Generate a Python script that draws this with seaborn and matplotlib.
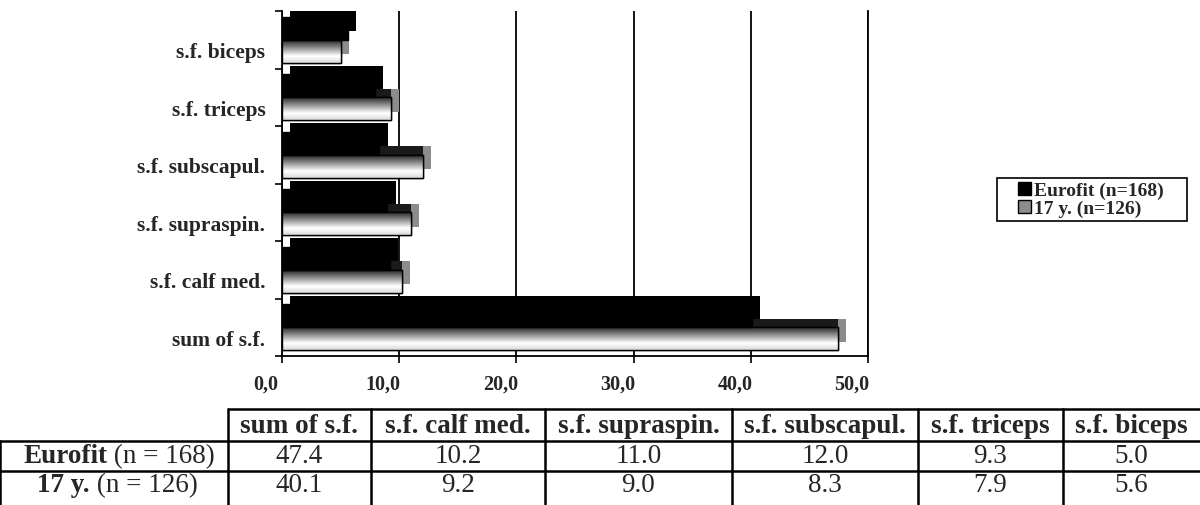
import numpy as np
import pandas as pd
import seaborn as sns
import matplotlib.pyplot as plt
import matplotlib.patches as mpatches
import matplotlib.patheffects as pe
import matplotlib.transforms as mtransforms

# table (left to right, as printed under the chart)
table_columns = ["sum of s.f.", "s.f. calf med.", "s.f. supraspin.", "s.f. subscapul.", "s.f. triceps", "s.f. biceps"]
eurofit_values = [47.4, 10.2, 11.0, 12.0, 9.3, 5.0]
y17_values = [40.1, 9.2, 9.0, 8.3, 7.9, 5.6]
row_bold = ["Eurofit", "17 y."]
row_rest = [" (n = 168)", " (n = 126)"]

# chart (top to bottom)
categories = table_columns[::-1]
black_values = y17_values[::-1]
white_values = eurofit_values[::-1]
legend_labels = ["Eurofit (n=168)", "17 y. (n=126)"]
x_ticks = [0, 10, 20, 30, 40, 50]
x_ticklabels = ["0,0", "10,0", "20,0", "30,0", "40,0", "50,0"]

sns.set_style("white")
plt.rcParams['font.family'] = ['Liberation Serif', 'DejaVu Serif']

df = pd.DataFrame({
    "part": categories * 2,
    "series": [legend_labels[0]] * len(categories) + [legend_labels[1]] * len(categories),
    "value": black_values + white_values,
})

fig = plt.figure(figsize=(12, 5.06), dpi=100)
ax = fig.add_axes([282 / 1200, 1 - 357 / 506, (868 - 282) / 1200, (357 - 12) / 506])

sns.barplot(data=df, y="part", x="value", hue="series", hue_order=legend_labels,
            palette=["black", "white"], saturation=1, orient="h", width=0.8,
            edgecolor="black", linewidth=1, legend=False, ax=ax)

# black bars in front, with black depth
for p in ax.containers[0]:
    p.set_zorder(5)
    p.set_path_effects([pe.SimplePatchShadow(offset=(6, 6), shadow_rgbFace="black", alpha=1), pe.Normal()])

# white bars: grey side, dark top, gradient front
grad = np.concatenate([np.linspace(0.15, 1.0, 70), np.linspace(1.0, 0.85, 30)]).reshape(-1, 1)
for p in ax.containers[1]:
    p.set_zorder(3)
    p.set_path_effects([pe.SimplePatchShadow(offset=(6, 6), shadow_rgbFace="0.55", alpha=1),
                        pe.SimplePatchShadow(offset=(0, 6), shadow_rgbFace="0.1", alpha=1),
                        pe.Normal()])
    x0, y0, w, h = p.get_x(), p.get_y(), p.get_width(), p.get_height()
    im = ax.imshow(grad, extent=(x0, x0 + w, y0 + h, y0), origin="upper", aspect="auto",
                   cmap="gray", vmin=0, vmax=1, zorder=3.1, interpolation="bilinear")
    im.set_clip_path(p)
    ax.add_patch(mpatches.Rectangle((x0, y0), w, h, fill=False, edgecolor="black", lw=1, zorder=3.2))

ax.set_xlim(0, 50)
ax.set_ylim(len(categories) - 0.5, -0.5)
ax.set_xticks(x_ticks)
ax.set_xticklabels(x_ticklabels, fontweight="bold", fontsize=14.5)
ax.grid(axis="x", color="black", lw=1.3)
ax.grid(axis="y", visible=False)
ax.set_axisbelow(True)
ax.set_xlabel("")
ax.set_ylabel("")
ax.set_yticks(range(len(categories)))
ax.set_yticklabels(categories, fontweight="bold", fontsize=15.5)
ax.set_yticks(np.arange(-0.5, len(categories)), minor=True)
ax.tick_params(axis="y", which="major", length=0, pad=12)
ax.tick_params(axis="y", which="minor", length=5, width=1.2, color="black", left=True)
ax.tick_params(axis="x", length=5, width=1.2, color="black", bottom=True, pad=8)
for s in ["left", "right", "bottom"]:
    ax.spines[s].set_color("black")
    ax.spines[s].set_linewidth(1.3)
ax.spines["top"].set_visible(False)

shift_down = mtransforms.ScaledTranslation(0, -10 / 100, fig.dpi_scale_trans)
for lab in ax.get_yticklabels():
    lab.set_transform(lab.get_transform() + shift_down)
shift_left = mtransforms.ScaledTranslation(-16 / 100, 0, fig.dpi_scale_trans)
for lab in ax.get_xticklabels():
    lab.set_transform(lab.get_transform() + shift_left)

# legend with a wide frame of its own
handles = [mpatches.Patch(facecolor="black", edgecolor="black"),
           mpatches.Patch(facecolor="0.55", edgecolor="black")]
fig.patches.append(mpatches.Rectangle((997 / 1200, 1 - 222 / 506), 190 / 1200, 43 / 506,
                                      transform=fig.transFigure, fill=False, edgecolor="black", lw=1.2))
fig.legend(handles, legend_labels, loc="center left", bbox_to_anchor=(1018 / 1200, 1 - 200.5 / 506),
           frameon=False, prop={"weight": "bold", "size": 14}, handlelength=0.65, handleheight=0.65,
           handletextpad=0.15, borderpad=0, labelspacing=0.05, borderaxespad=0)

# table under the chart
tab = fig.add_axes([0, 0, 1, 1])
tab.set_xlim(0, 1200)
tab.set_ylim(506, 0)
tab.axis("off")
col_edges = [0, 228, 371, 545, 732, 918, 1063, 1200]
row_tops = [410, 442, 472]
lw = 1.8
tab.plot([col_edges[1], col_edges[-1]], [row_tops[0]] * 2, color="black", lw=lw)
for yv in row_tops[1:]:
    tab.plot([col_edges[0], col_edges[-1]], [yv] * 2, color="black", lw=lw)
tab.plot([col_edges[0]] * 2, [row_tops[1], 506], color="black", lw=lw)
for xv in col_edges[1:-1]:
    tab.plot([xv] * 2, [row_tops[0], 506], color="black", lw=lw)

fs = 19.5
centers = [(col_edges[i + 1] + col_edges[i + 2]) / 2 for i in range(len(table_columns))]
for cx, name in zip(centers, table_columns):
    tab.text(cx, 427, name, ha="center", va="center", fontweight="bold", fontsize=fs)
row_y = [457, 486]
row_x = [23, 37]
for ry, rx, b, r, vals in zip(row_y, row_x, row_bold, row_rest, [eurofit_values, y17_values]):
    t = tab.text(rx, ry, b, ha="left", va="center", fontweight="bold", fontsize=fs)
    tab.annotate(r, xy=(1, 0.5), xycoords=t, ha="left", va="center", fontsize=fs)
    for cx, v in zip(centers, vals):
        tab.text(cx, ry, f"{v:.1f}", ha="center", va="center", fontsize=fs)

fig.savefig("out.png", dpi=100)
